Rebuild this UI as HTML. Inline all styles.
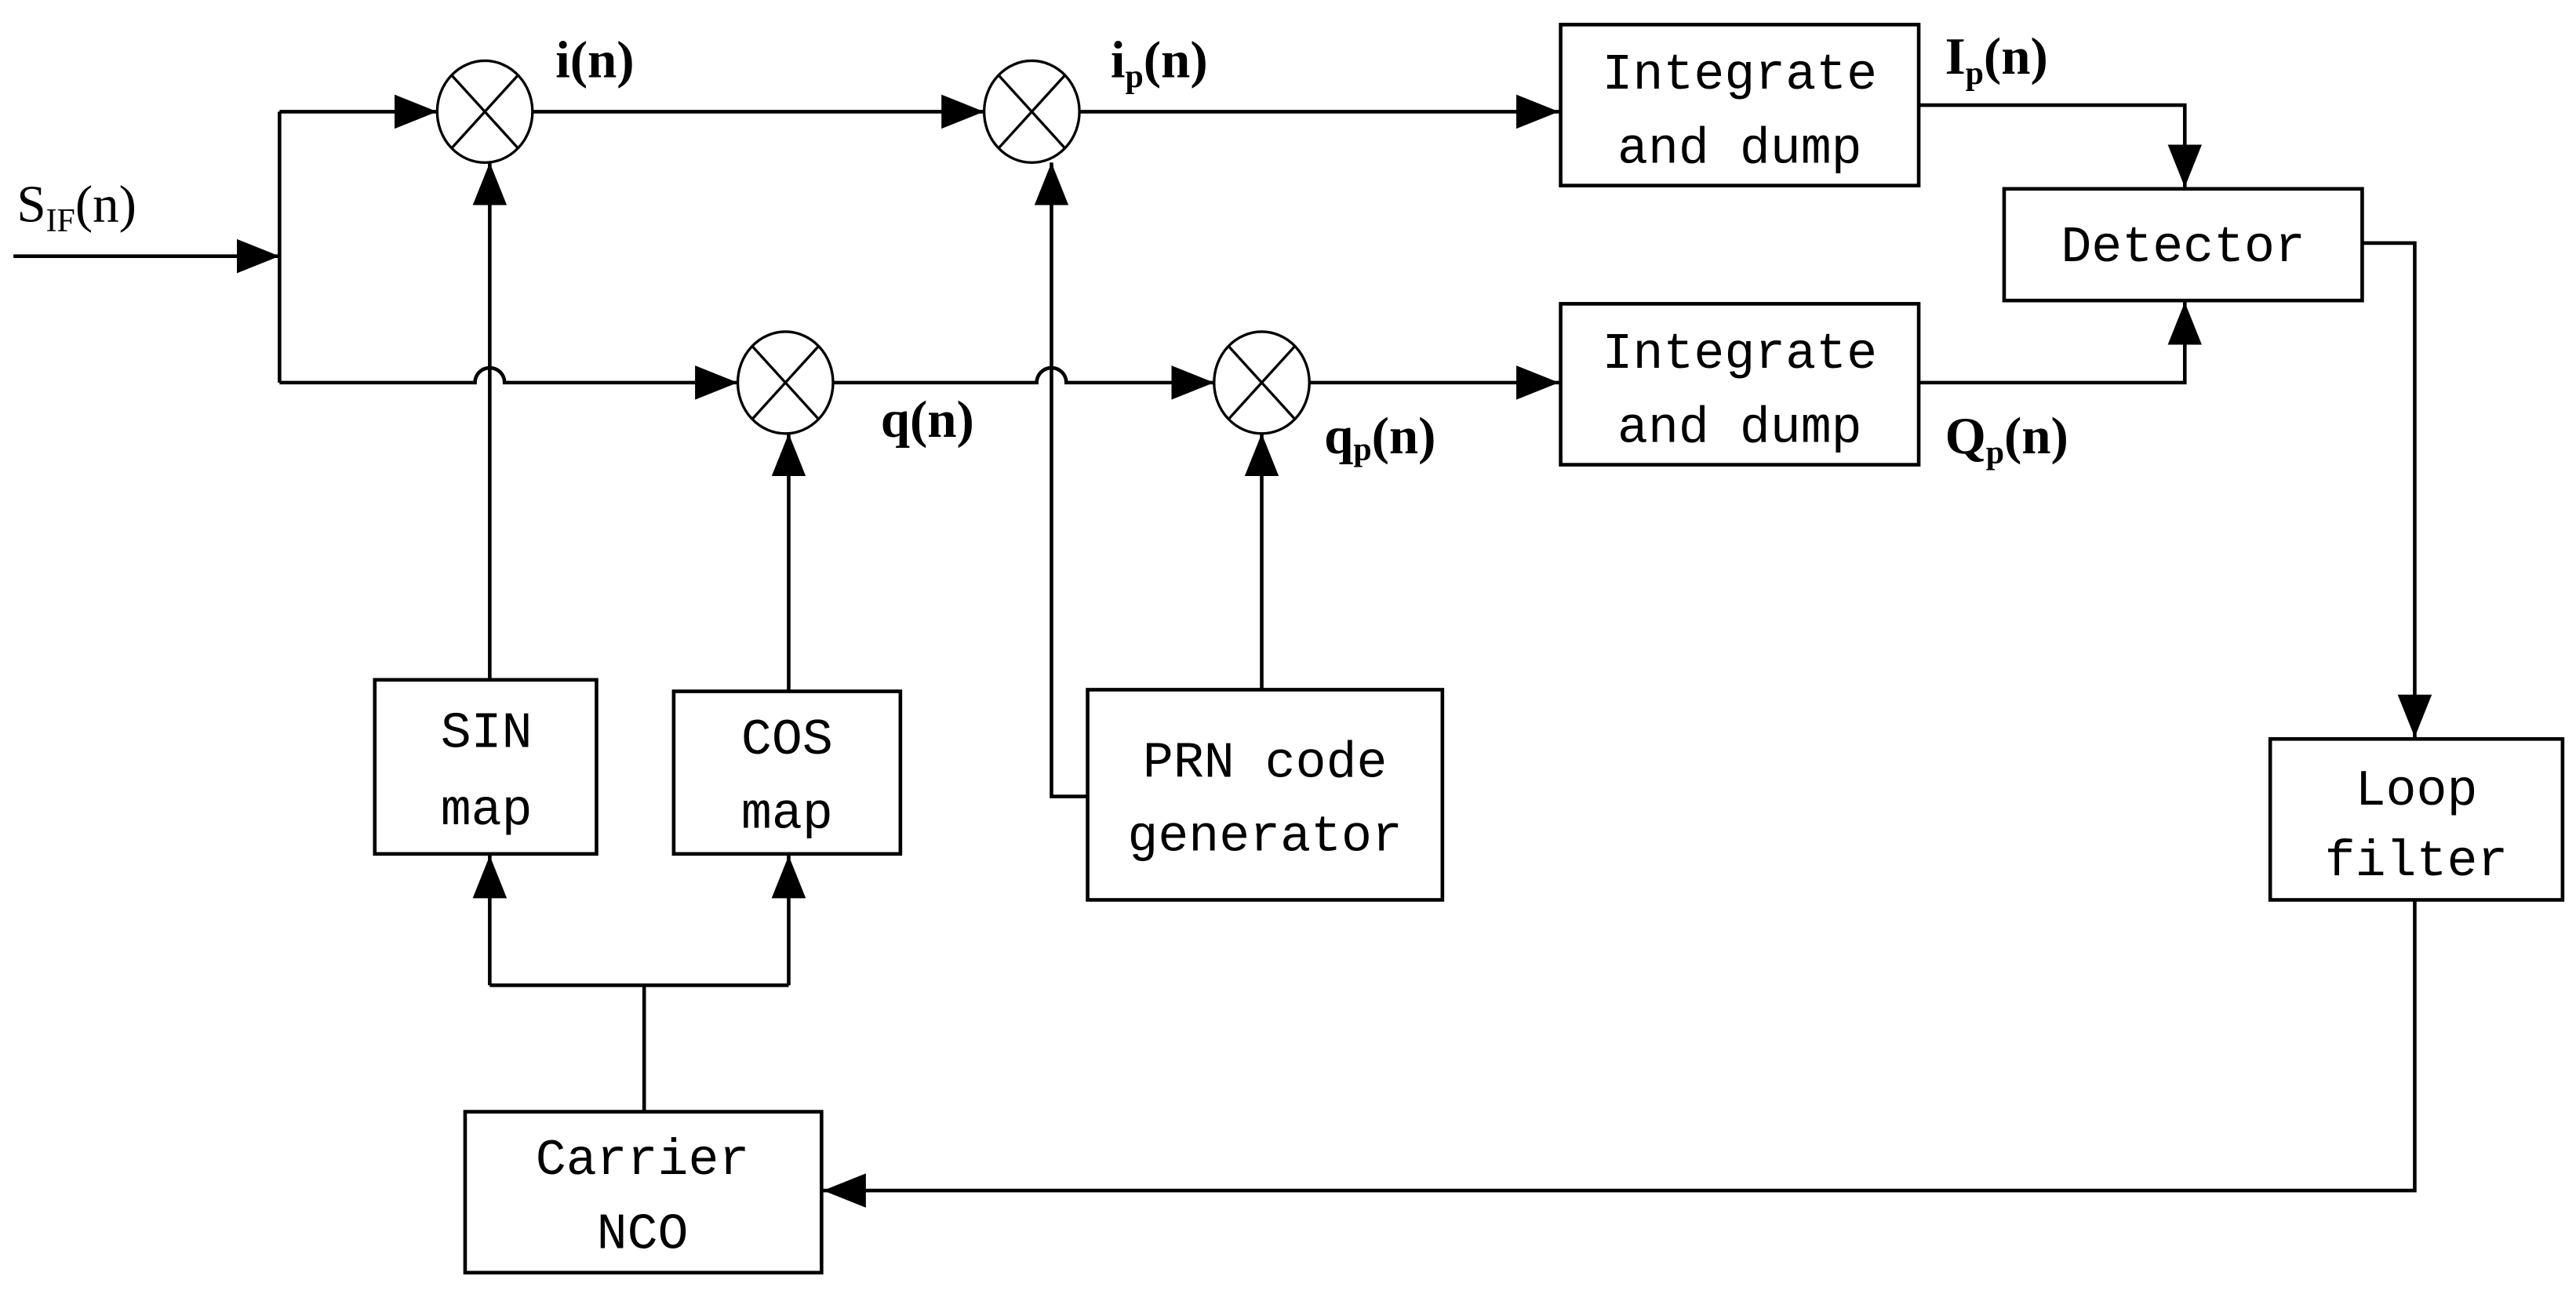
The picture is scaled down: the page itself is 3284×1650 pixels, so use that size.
<!DOCTYPE html>
<html><head><meta charset="utf-8"><style>html,body{margin:0;padding:0;background:#fff}svg{display:block}</style></head>
<body>
<svg width="3284" height="1650" viewBox="0 0 1568 788" xmlns="http://www.w3.org/2000/svg">
<defs>
<marker id="a" viewBox="0 0 10 10" refX="10" refY="5" markerWidth="26" markerHeight="26" markerUnits="userSpaceOnUse" orient="auto"><path d="M0,1 L10,5 L0,9 z" fill="#000"/></marker>
</defs>
<g fill="none" stroke="#000" stroke-width="2.2">
<path d="M8,156 H170" marker-end="url(#a)"/>
<path d="M170,68 V233"/>
<path d="M170,68 H266" marker-end="url(#a)"/>
<path d="M170,233 H289 a9,9 0 0 1 18,0 H449" marker-end="url(#a)"/>
<path d="M323,68 H599" marker-end="url(#a)"/>
<path d="M507,233 H631 a9,9 0 0 1 18,0 H739" marker-end="url(#a)"/>
<path d="M657,68 H949" marker-end="url(#a)"/>
<path d="M797,233 H949" marker-end="url(#a)"/>
<path d="M1168,64 H1330 V114" marker-end="url(#a)"/>
<path d="M1168,233 H1330 V184" marker-end="url(#a)"/>
<path d="M1438,148 H1470 V449" marker-end="url(#a)"/>
<path d="M1470,548 V725 H501" marker-end="url(#a)"/>
<path d="M392,677 V600"/>
<path d="M298,600 H480"/>
<path d="M298,600 V521" marker-end="url(#a)"/>
<path d="M480,600 V521" marker-end="url(#a)"/>
<path d="M298,414 V99" marker-end="url(#a)"/>
<path d="M480,421 V264" marker-end="url(#a)"/>
<path d="M662,485 H640 V99" marker-end="url(#a)"/>
<path d="M768,420 V264" marker-end="url(#a)"/>
</g>
<g fill="#fff" stroke="#000" stroke-width="1.6">
<ellipse cx="295" cy="68" rx="29" ry="31"/><path d="M275,46 L315,90 M315,46 L275,90"/>
<ellipse cx="628" cy="68" rx="29" ry="31"/><path d="M608,46 L648,90 M648,46 L608,90"/>
<ellipse cx="478" cy="233" rx="29" ry="31"/><path d="M458,211 L498,255 M498,211 L458,255"/>
<ellipse cx="768" cy="233" rx="29" ry="31"/><path d="M748,211 L788,255 M788,211 L748,255"/>
</g>
<g fill="#fff" stroke="#000" stroke-width="2.2">
<rect x="950" y="15" width="218" height="98"/>
<rect x="950" y="185" width="218" height="98"/>
<rect x="1220" y="115" width="218" height="68"/>
<rect x="1382" y="450" width="178" height="98"/>
<rect x="283" y="677" width="217" height="98"/>
<rect x="228" y="414" width="135" height="106"/>
<rect x="410" y="421" width="138" height="99"/>
<rect x="662" y="420" width="216" height="128"/>
</g>
<g font-family="Liberation Mono, monospace" font-size="31" text-anchor="middle" fill="#000">
<text x="1059" y="54">Integrate</text><text x="1059" y="99">and dump</text>
<text x="1059" y="224">Integrate</text><text x="1059" y="269">and dump</text>
<text x="1329" y="159">Detector</text>
<text x="1471" y="490">Loop</text><text x="1471" y="533">filter</text>
<text x="391" y="715">Carrier</text><text x="391" y="760">NCO</text>
<text x="296" y="455">SIN</text><text x="296" y="502">map</text>
<text x="479" y="459">COS</text><text x="479" y="504">map</text>
<text x="770" y="473">PRN code</text><text x="770" y="518">generator</text>
</g>
<g font-family="Liberation Serif, serif" font-size="32" font-weight="bold" fill="#000">
<text x="338" y="47">i(n)</text>
<text x="676" y="47">i<tspan font-size="20" dy="6">p</tspan><tspan dy="-6">(n)</tspan></text>
<text x="1184" y="45">I<tspan font-size="20" dy="6">p</tspan><tspan dy="-6">(n)</tspan></text>
<text x="536" y="266">q(n)</text>
<text x="806" y="276">q<tspan font-size="20" dy="4">p</tspan><tspan dy="-4">(n)</tspan></text>
<text x="1184" y="276">Q<tspan font-size="20" dy="6">p</tspan><tspan dy="-6">(n)</tspan></text>
</g>
<text x="10" y="135" font-family="Liberation Serif, serif" font-size="32" fill="#000">S<tspan font-size="20" dy="6">IF</tspan><tspan dy="-6">(n)</tspan></text>
</svg>
</body></html>
